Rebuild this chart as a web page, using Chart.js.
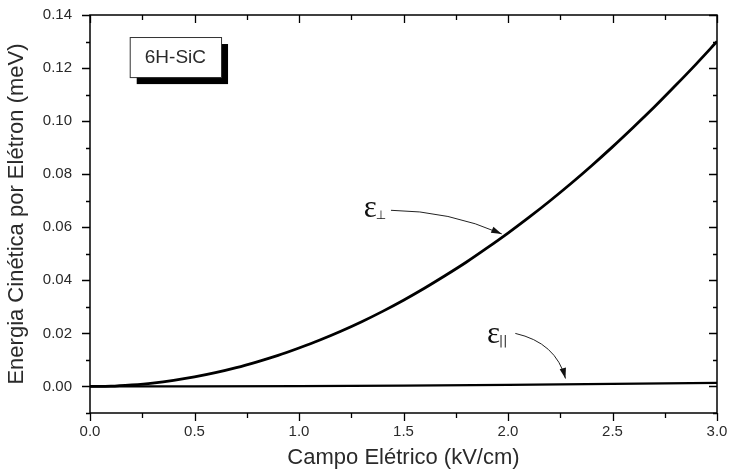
<!DOCTYPE html>
<html lang="pt">
<head>
    <meta charset="UTF-8">
    <title>Energia Cinética por Elétron - 6H-SiC</title>
    <script src="https://cdn.jsdelivr.net/npm/chart.js"></script>
    <style>
        body { margin: 0; padding: 0; background: #fff; }
        #wrap { width: 731px; height: 471px; }
    </style>
</head>
<body>
    <div id="wrap"><canvas id="energyChart" width="731" height="471"></canvas></div>
    <script>
        // campo elétrico (kV/cm)
        const campo = [0.0, 0.1, 0.2, 0.3, 0.4, 0.5, 0.6, 0.7, 0.8, 0.9, 1.0,
                       1.1, 1.2, 1.3, 1.4, 1.5, 1.6, 1.7, 1.8, 1.9, 2.0,
                       2.1, 2.2, 2.3, 2.4, 2.5, 2.6, 2.7, 2.8, 2.9, 3.0];
        // energia perpendicular (meV)
        const ePerp = [0.0000, 0.0001, 0.0006, 0.0013, 0.0023, 0.0036, 0.0052, 0.0071, 0.0093, 0.0117, 0.0145,
                       0.0175, 0.0208, 0.0244, 0.0283, 0.0325, 0.0370, 0.0418, 0.0468, 0.0522, 0.0578,
                       0.0637, 0.0699, 0.0764, 0.0832, 0.0903, 0.0977, 0.1053, 0.1133, 0.1215, 0.1300];
        // energia paralela (meV)
        const campoPar = [0.0, 0.5, 1.0, 1.5, 2.0, 2.5, 3.0];
        const ePar = [0.0000, 0.00004, 0.00015, 0.00034, 0.0006, 0.00094, 0.00135];

        const xTicks = [0.0, 0.5, 1.0, 1.5, 2.0, 2.5, 3.0];
        const yTicks = [0.00, 0.02, 0.04, 0.06, 0.08, 0.10, 0.12, 0.14];

        const txtColor = '#2a2a2a';
        const fonte = '"Liberation Sans", Arial, sans-serif';

        // moldura, ticks e anotações
        const extras = {
            id: 'extras',
            afterDraw(chart) {
                const ctx = chart.ctx;
                const xs = chart.scales.x, ys = chart.scales.y;
                const a = chart.chartArea;
                ctx.save();
                ctx.strokeStyle = '#000';
                ctx.lineWidth = 1.5;
                ctx.strokeRect(a.left, a.top, a.right - a.left, a.bottom - a.top);

                ctx.lineWidth = 1.3;
                ctx.beginPath();
                for (let i = -1; i <= 14; i++) {
                    const py = Math.round(ys.getPixelForValue(i / 100)) + 0.5;
                    const len = (i % 2 === 0) ? 8 : 4;
                    ctx.moveTo(a.left - len, py); ctx.lineTo(a.left, py);
                    ctx.moveTo(a.right, py); ctx.lineTo(a.right - len, py);
                }
                for (let i = 0; i <= 12; i++) {
                    const px = Math.round(xs.getPixelForValue(i / 4)) + 0.5;
                    const len = (i % 2 === 0) ? 8 : 5;
                    ctx.moveTo(px, a.bottom); ctx.lineTo(px, a.bottom + len);
                    ctx.moveTo(px, a.top); ctx.lineTo(px, a.top + len);
                }
                ctx.stroke();

                // caixa 6H-SiC
                const bx1 = xs.getPixelForValue(0.19), bx2 = xs.getPixelForValue(0.627);
                const by1 = ys.getPixelForValue(0.1317), by2 = ys.getPixelForValue(0.1166);
                ctx.fillStyle = '#000';
                ctx.fillRect(bx1 + 7, by1 + 7, bx2 - bx1, by2 - by1);
                ctx.fillStyle = '#fff';
                ctx.fillRect(bx1, by1, bx2 - bx1, by2 - by1);
                ctx.lineWidth = 1;
                ctx.strokeStyle = '#333';
                ctx.strokeRect(bx1 + 0.5, by1 + 0.5, bx2 - bx1, by2 - by1);
                ctx.fillStyle = txtColor;
                ctx.font = '19px ' + fonte;
                ctx.textAlign = 'center';
                ctx.textBaseline = 'middle';
                ctx.fillText('6H-SiC', (bx1 + bx2) / 2, (by1 + by2) / 2 + 1);

                // rótulos épsilon
                function eps(xv, yv, sub) {
                    const px = xs.getPixelForValue(xv), py = ys.getPixelForValue(yv);
                    ctx.fillStyle = '#111';
                    ctx.textAlign = 'left';
                    ctx.textBaseline = 'alphabetic';
                    ctx.font = '31px "Liberation Serif", "DejaVu Serif", serif';
                    ctx.fillText('ε', px, py);
                    const w = ctx.measureText('ε').width;
                    ctx.font = '12px "DejaVu Sans", sans-serif';
                    ctx.fillText(sub, px + w - 1, py + 2);
                }
                eps(1.31, 0.0640, '⊥');
                eps(1.90, 0.0165, '||');

                // setas curvas
                function arrow(x0, y0, cx, cy, x1, y1) {
                    const p0 = [xs.getPixelForValue(x0), ys.getPixelForValue(y0)];
                    const c = [xs.getPixelForValue(cx), ys.getPixelForValue(cy)];
                    const p1 = [xs.getPixelForValue(x1), ys.getPixelForValue(y1)];
                    ctx.strokeStyle = '#222';
                    ctx.lineWidth = 1;
                    ctx.beginPath();
                    ctx.moveTo(p0[0], p0[1]);
                    ctx.quadraticCurveTo(c[0], c[1], p1[0], p1[1]);
                    ctx.stroke();
                    const ang = Math.atan2(p1[1] - c[1], p1[0] - c[0]);
                    const L = 11, W = 0.3;
                    ctx.fillStyle = '#111';
                    ctx.beginPath();
                    ctx.moveTo(p1[0], p1[1]);
                    ctx.lineTo(p1[0] - L * Math.cos(ang - W), p1[1] - L * Math.sin(ang - W));
                    ctx.lineTo(p1[0] - L * Math.cos(ang + W), p1[1] - L * Math.sin(ang + W));
                    ctx.closePath();
                    ctx.fill();
                }
                arrow(1.44, 0.0664, 1.72, 0.0662, 1.97, 0.0575);
                arrow(2.035, 0.0200, 2.23, 0.0165, 2.275, 0.0030);
                ctx.restore();
            }
        };

        const ctx = document.getElementById('energyChart').getContext('2d');
        new Chart(ctx, {
            type: 'line',
            data: {
                datasets: [
                    {
                        label: 'ε perpendicular',
                        data: campo.map((x, i) => ({ x: x, y: ePerp[i] })),
                        borderColor: '#000',
                        borderWidth: 2.8,
                        pointRadius: 0,
                        tension: 0.3,
                        fill: false
                    },
                    {
                        label: 'ε paralelo',
                        data: campoPar.map((x, i) => ({ x: x, y: ePar[i] })),
                        borderColor: '#000',
                        borderWidth: 2.2,
                        pointRadius: 0,
                        tension: 0,
                        fill: false
                    }
                ]
            },
            options: {
                responsive: false,
                animation: false,
                layout: { padding: { top: 15, right: 14, left: 0, bottom: 0 } },
                plugins: { legend: { display: false }, tooltip: { enabled: false } },
                scales: {
                    x: {
                        type: 'linear',
                        min: 0, max: 3.0,
                        grid: { display: false },
                        border: { display: false },
                        afterBuildTicks: s => { s.ticks = xTicks.map(v => ({ value: v })); },
                        afterFit: s => { s.height = 58; },
                        ticks: {
                            padding: 2,
                            color: txtColor,
                            font: { family: fonte, size: 15 },
                            callback: v => Number(v).toFixed(1)
                        },
                        title: {
                            display: true,
                            text: 'Campo Elétrico (kV/cm)',
                            color: txtColor,
                            padding: { top: 0, bottom: 0 },
                            font: { family: fonte, size: 22 }
                        }
                    },
                    y: {
                        type: 'linear',
                        min: -0.01, max: 0.14,
                        grid: { display: false },
                        border: { display: false },
                        afterBuildTicks: s => { s.ticks = yTicks.map(v => ({ value: v })); },
                        afterFit: s => { s.width = 90; s.paddingTop = 0; s.paddingBottom = 0; },
                        ticks: {
                            padding: 10,
                            color: txtColor,
                            font: { family: fonte, size: 15 },
                            callback: v => Number(v).toFixed(2)
                        },
                        title: {
                            display: true,
                            text: 'Energia Cinética por Elétron (meV)',
                            color: txtColor,
                            padding: { top: 4, bottom: 0 },
                            font: { family: fonte, size: 22 }
                        }
                    }
                }
            },
            plugins: [extras]
        });
    </script>
</body>
</html>
